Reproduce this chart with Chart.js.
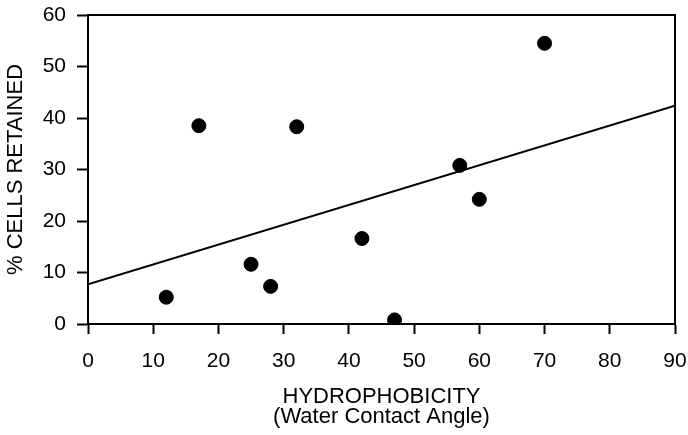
<!DOCTYPE html>
<html>
<head>
<meta charset="utf-8">
<script src="https://cdn.jsdelivr.net/npm/chart.js@4/dist/chart.umd.min.js"></script>
<style>
  html, body { margin: 0; padding: 0; background: #fff; }
  #wrap { width: 688px; height: 435px; }
</style>
</head>
<body>
<div id="wrap"><canvas id="hydroChart" width="688" height="435"></canvas></div>
<script>
// measured points: contact angle vs % cells retained
const contactAngle = [12, 17, 25, 28, 32, 42, 47, 57, 60, 70];
const cellsRetained = [5.2, 38.5, 11.6, 7.3, 38.3, 16.6, 0.8, 30.8, 24.2, 54.5];

// fitted line, read at both ends of the x axis
const fitAngle = [0, 90];
const fitRetained = [7.7, 42.4];

const xTicks = [0, 10, 20, 30, 40, 50, 60, 70, 80, 90];
const yTicks = [0, 10, 20, 30, 40, 50, 60];

const pts = contactAngle.map((x, i) => ({ x, y: cellsRetained[i] }));
const fit = fitAngle.map((x, i) => ({ x, y: fitRetained[i] }));

// top + right sides of the frame
const frameBox = {
    id: 'frameBox',
    afterDraw(chart) {
        const { ctx, chartArea: a } = chart;
        ctx.save();
        ctx.strokeStyle = '#000';
        ctx.lineWidth = 2;
        ctx.strokeRect(a.left, a.top, a.right - a.left, a.bottom - a.top);
        ctx.restore();
    }
};

const font = 'Liberation Sans, Arial, Helvetica, sans-serif';

new Chart(document.getElementById('hydroChart').getContext('2d'), {
    type: 'scatter',
    data: {
        datasets: [
            {
                label: 'fit',
                data: fit,
                showLine: true,
                borderColor: '#000',
                borderWidth: 2,
                pointRadius: 0,
                fill: false,
                order: 2
            },
            {
                label: 'cells',
                data: pts,
                backgroundColor: '#000',
                borderColor: '#000',
                pointRadius: 7,
                pointHoverRadius: 7,
                order: 1
            }
        ]
    },
    options: {
        responsive: false,
        animation: false,
        layout: { padding: { left: 0, top: 15, right: 13, bottom: 0 } },
        plugins: {
            legend: { display: false },
            tooltip: { enabled: false }
        },
        scales: {
            x: {
                type: 'linear',
                min: 0,
                max: 90,
                afterBuildTicks: s => { s.ticks = xTicks.map(v => ({ value: v })); },
                afterFit: s => { s.height = 111; s.paddingLeft = 0; s.paddingRight = 0; },
                grid: { display: true, drawOnChartArea: false, drawTicks: true, tickLength: 10, tickWidth: 2, color: '#000' },
                border: { display: true, color: '#000', width: 2 },
                ticks: { color: '#000', padding: 15, font: { family: font, size: 21 } },
                title: {
                    display: true,
                    text: ['HYDROPHOBICITY', '(Water Contact Angle)'],
                    color: '#000',
                    font: { family: font, size: 22, lineHeight: '20px' },
                    padding: { top: 0, bottom: 8 }
                }
            },
            y: {
                type: 'linear',
                min: 0,
                max: 60,
                afterBuildTicks: s => { s.ticks = yTicks.map(v => ({ value: v })); },
                afterFit: s => { s.width = 88; s.paddingTop = 0; s.paddingBottom = 0; },
                grid: { display: true, drawOnChartArea: false, drawTicks: true, tickLength: 11, tickWidth: 2, color: '#000' },
                border: { display: true, color: '#000', width: 2 },
                ticks: { color: '#000', padding: 11, font: { family: font, size: 21 } },
                title: {
                    display: true,
                    text: '% CELLS RETAINED',
                    color: '#000',
                    font: { family: font, size: 22 },
                    padding: { top: 3, bottom: 0 }
                }
            }
        }
    },
    plugins: [frameBox]
});
</script>
</body>
</html>
